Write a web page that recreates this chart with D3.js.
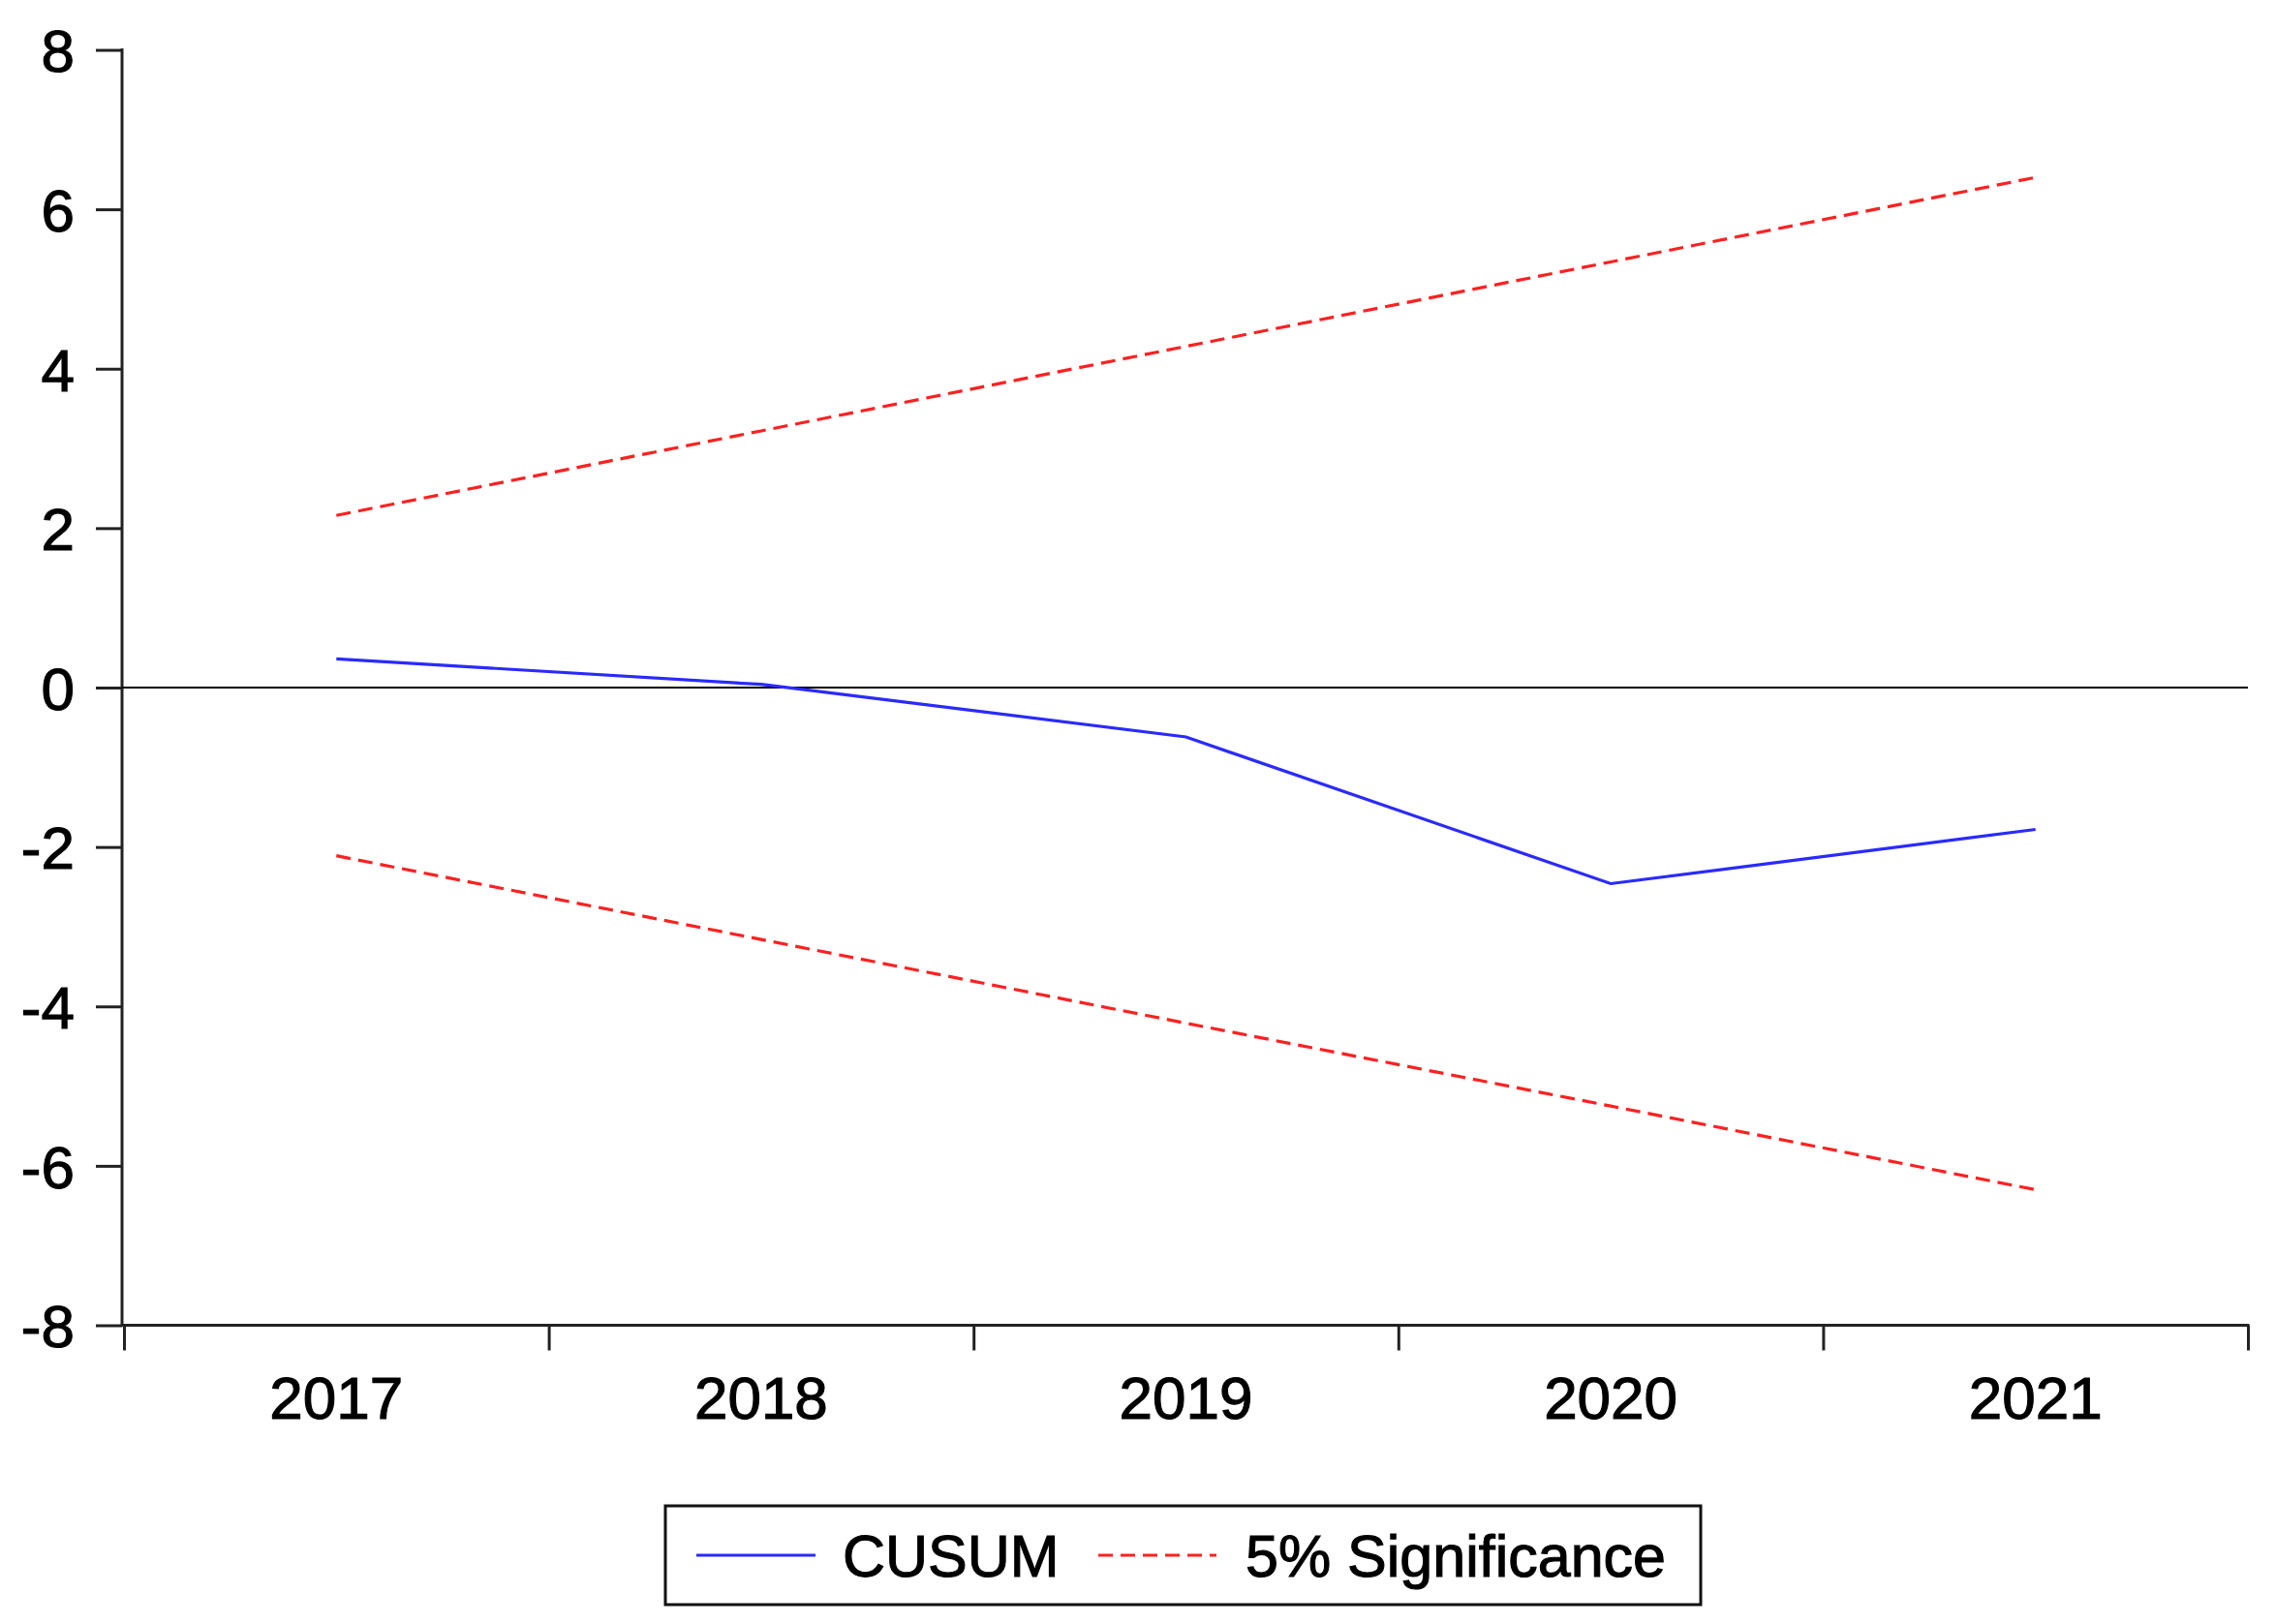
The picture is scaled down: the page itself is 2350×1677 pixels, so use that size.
<!DOCTYPE html>
<html>
<head>
<meta charset="utf-8">
<script src="https://cdn.jsdelivr.net/npm/d3@7"></script>
<style>
  html, body { margin: 0; padding: 0; background: #fff; }
  svg { display: block; }
  text { font-family: "Liberation Sans", Arial, sans-serif; fill: #000; stroke: #000; stroke-width: 1.1px; }
</style>
</head>
<body>
<svg id="chart" width="2350" height="1677"></svg>
<script>
// ---- data ----
const years = [2017, 2018, 2019, 2020, 2021];
const cusum = [0.36, 0.04, -0.62, -2.46, -1.78];
const upper5 = [2.16, 3.22, 4.28, 5.34, 6.40];
const lower5 = [-2.11, -3.16, -4.21, -5.25, -6.30];
const yTicks = [-8, -6, -4, -2, 0, 2, 4, 6, 8];
const xTickBounds = [2016.5, 2017.5, 2018.5, 2019.5, 2020.5, 2021.5];
const legendLabels = ["CUSUM", "5% Significance"];

// ---- layout ----
const svg = d3.select("#chart");
const mLeft = 126, mRight = 2321, mTop = 51.5, mBottom = 1368.5;

const x = d3.scaleLinear().domain([2016.5, 2021.5]).range([mLeft + 2, mRight]);
const y = d3.scaleLinear().domain([-8, 8]).range([mBottom, mTop]);

const axisColor = "#222";

// y axis
const yAxis = svg.append("g")
  .attr("transform", `translate(${mLeft},0)`)
  .call(d3.axisLeft(y).tickValues(yTicks).tickSize(27).tickPadding(22).tickFormat(d => String(d)));
yAxis.select(".domain").remove();
yAxis.selectAll(".tick line").attr("stroke", axisColor).attr("stroke-width", 3);
yAxis.selectAll(".tick text").attr("dy", "0.36em")
  .style("font-family", "Liberation Sans, Arial, sans-serif").attr("fill", "#000")
  .style("font-size", "62px");
svg.append("line").attr("x1", mLeft).attr("x2", mLeft).attr("y1", y(8) - 1.5).attr("y2", mBottom)
  .attr("stroke", axisColor).attr("stroke-width", 3);

// x axis
const xAxis = svg.append("g")
  .attr("transform", `translate(0,${mBottom})`)
  .call(d3.axisBottom(x).tickValues(xTickBounds).tickSize(26).tickFormat(""));
xAxis.select(".domain").remove();
xAxis.selectAll(".tick line").attr("stroke", axisColor).attr("stroke-width", 3);
svg.append("line").attr("x1", mLeft).attr("x2", mRight + 1.5).attr("y1", mBottom).attr("y2", mBottom)
  .attr("stroke", axisColor).attr("stroke-width", 3);
svg.append("g").selectAll("text").data(years).join("text")
  .attr("x", d => x(d)).attr("y", 1465)
  .attr("text-anchor", "middle").style("font-size", "62px").text(d => d);

// zero line
svg.append("line").attr("x1", mLeft).attr("x2", mRight).attr("y1", y(0)).attr("y2", y(0))
  .attr("stroke", "#000").attr("stroke-width", 2);

// lines
const line = d3.line().x((d, i) => x(years[i])).y(d => y(d));
svg.append("path").datum(upper5).attr("d", line).attr("fill", "none")
  .attr("stroke", "#ff2020").attr("stroke-width", 3.2).attr("stroke-dasharray", "15,8");
svg.append("path").datum(lower5).attr("d", line).attr("fill", "none")
  .attr("stroke", "#ff2020").attr("stroke-width", 3.2).attr("stroke-dasharray", "15,8");
svg.append("path").datum(cusum).attr("d", line).attr("fill", "none")
  .attr("stroke", "#2a2aff").attr("stroke-width", 3.2);

// legend
const lg = svg.append("g");
lg.append("rect").attr("x", 687).attr("y", 1555).attr("width", 1069).attr("height", 102)
  .attr("fill", "#fff").attr("stroke", "#111").attr("stroke-width", 3);
lg.append("line").attr("x1", 719).attr("x2", 842).attr("y1", 1606).attr("y2", 1606)
  .attr("stroke", "#2a2aff").attr("stroke-width", 3.2);
lg.append("text").attr("x", 870).attr("y", 1628).style("font-size", "61px").text(legendLabels[0]);
lg.append("line").attr("x1", 1134).attr("x2", 1256).attr("y1", 1606).attr("y2", 1606)
  .attr("stroke", "#ff2020").attr("stroke-width", 3.2).attr("stroke-dasharray", "15,8");
lg.append("text").attr("x", 1286).attr("y", 1628).style("font-size", "61px").text(legendLabels[1]);
</script>
</body>
</html>
